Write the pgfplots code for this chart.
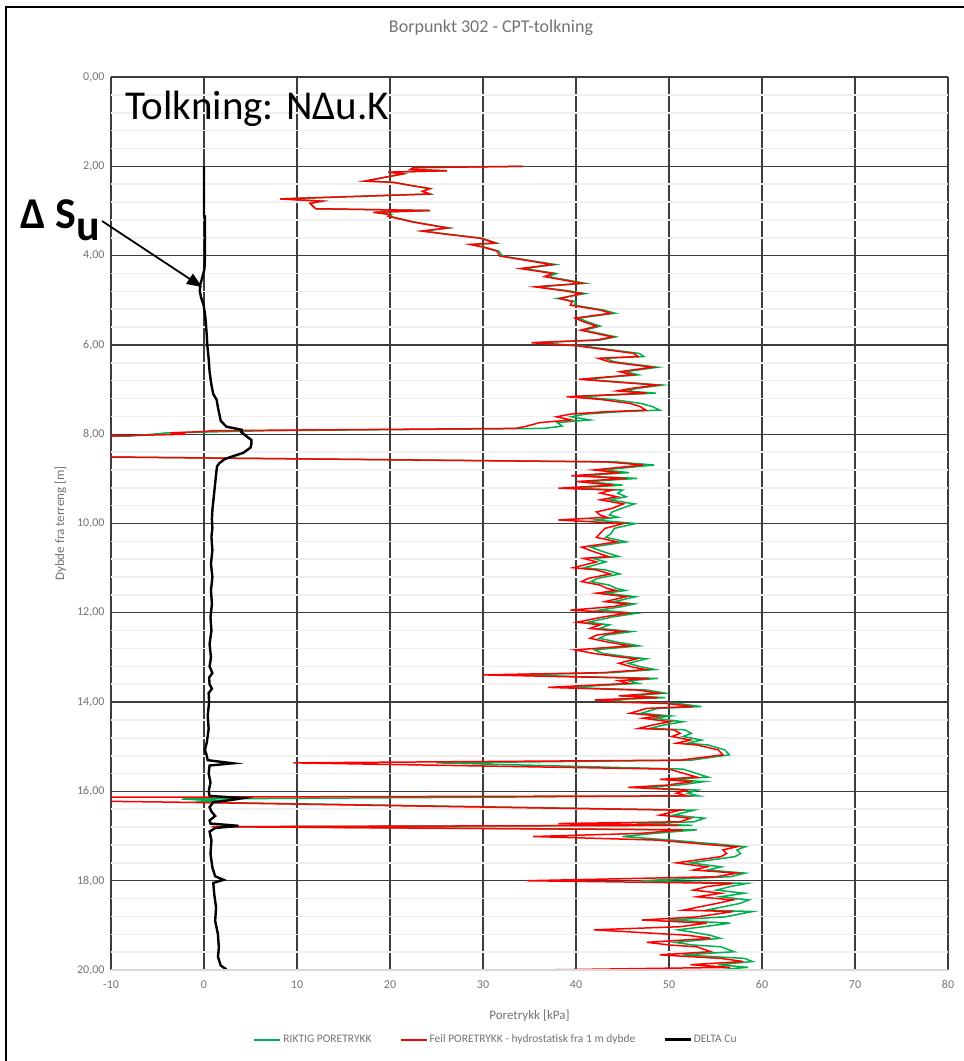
\documentclass[border=0pt]{standalone}
\usepackage{pgfplots}
\pgfplotsset{compat=1.18}
\usepackage{pgfplotstable}
\usepackage{fontspec}
\setmainfont{Carlito}
\usetikzlibrary{arrows.meta}

\definecolor{riktig}{RGB}{0,176,80}
\definecolor{feil}{RGB}{255,0,0}
\definecolor{gridmaj}{RGB}{60,60,60}
\definecolor{gridmin}{RGB}{240,240,240}
\definecolor{txtgray}{RGB}{115,115,115}

% poretrykk [kPa] mot dybde [m]
\pgfplotstableread{
p d
34.3 2.00
22.5 2.03
22.2 2.07
26.1 2.10
19.8 2.13
21.4 2.17
17.3 2.33
20.4 2.36
22.0 2.42
24.3 2.50
23.5 2.56
24.3 2.62
8.2 2.73
12.7 2.78
11.4 2.83
12.0 2.95
24.3 2.99
18.4 3.03
20.2 3.08
20.0 3.12
22.7 3.25
25.2 3.34
26.4 3.38
23.6 3.45
26.2 3.52
29.9 3.61
31.5 3.72
28.8 3.75
30.2 3.81
31.7 3.90
32.1 4.01
33.6 4.06
36.9 4.17
37.8 4.20
34.4 4.29
37.9 4.40
37.0 4.47
41.0 4.62
35.8 4.70
38.9 4.78
41.0 4.85
38.0 4.96
40.0 5.03
39.8 5.11
43.0 5.22
44.2 5.29
40.3 5.40
41.2 5.48
42.6 5.58
40.9 5.67
44.3 5.82
42.6 5.89
35.6 5.95
40.5 6.02
46.8 6.19
47.3 6.26
43.0 6.30
44.2 6.38
48.8 6.50
45.3 6.60
46.7 6.67
40.9 6.77
49.3 6.90
46.7 6.97
45.2 7.03
48.6 7.08
40.0 7.16
43.8 7.22
47.0 7.31
48.2 7.38
49.0 7.46
44.4 7.50
41.0 7.55
39.5 7.61
41.5 7.68
38.0 7.74
38.5 7.82
36.5 7.87
6.9 7.92
-4.0 7.97
-5.5 8.00
-8.0 8.04
-30 8.08
-30 8.47
44.3 8.62
48.4 8.69
42.9 8.80
45.7 8.86
40.5 8.93
46.6 8.99
41.1 9.06
45.0 9.14
39.5 9.21
45.0 9.25
44.5 9.32
45.4 9.40
43.6 9.47
46.3 9.56
44.9 9.66
43.9 9.74
43.6 9.81
44.5 9.86
42.0 9.92
46.4 10.00
44.1 10.11
43.8 10.22
43.2 10.31
45.4 10.41
41.6 10.53
42.9 10.63
44.6 10.74
41.8 10.78
43.2 10.86
40.9 10.99
43.2 11.04
44.7 11.13
42.3 11.23
41.6 11.30
43.6 11.38
44.3 11.45
45.3 11.50
43.2 11.56
46.4 11.64
44.1 11.75
46.3 11.80
45.0 11.86
42.5 11.94
46.5 12.01
44.0 12.09
41.3 12.21
43.6 12.27
42.5 12.35
46.0 12.42
43.2 12.50
42.5 12.57
44.3 12.65
46.8 12.74
42.0 12.83
42.9 12.91
45.4 12.98
47.6 13.03
45.6 13.13
47.0 13.21
48.5 13.27
43.9 13.34
33.0 13.39
48.8 13.47
45.6 13.52
46.7 13.58
39.0 13.67
47.7 13.73
49.6 13.80
45.6 13.86
49.6 13.90
43.0 13.95
46.0 14.00
50.9 14.03
53.5 14.10
48.8 14.14
47.0 14.25
50.2 14.31
48.4 14.36
51.5 14.44
49.5 14.51
47.9 14.59
51.7 14.62
52.4 14.70
51.5 14.77
53.5 14.85
52.0 14.92
54.2 14.96
56.0 15.07
56.5 15.18
52.4 15.30
25.0 15.36
51.5 15.50
54.2 15.68
50.2 15.73
53.8 15.78
51.0 15.86
46.8 15.91
53.1 15.97
52.0 16.04
53.2 16.10
-2.4 16.17
1.4 16.21
-1.0 16.24
52.7 16.42
50.5 16.53
53.8 16.60
52.7 16.68
46.5 16.72
52.5 16.76
2.0 16.79
53.0 16.86
48.4 16.94
45.0 17.01
50.2 17.09
56.3 17.20
58.2 17.24
57.3 17.31
57.7 17.39
57.1 17.46
52.3 17.60
55.6 17.69
54.1 17.76
58.2 17.83
56.6 17.91
47.0 18.00
58.4 18.06
56.6 18.13
55.1 18.21
58.1 18.28
55.5 18.36
58.6 18.43
57.6 18.51
54.0 18.66
59.0 18.69
56.0 18.81
50.0 18.88
56.6 18.95
53.7 19.03
51.0 19.10
54.4 19.22
55.5 19.29
50.6 19.38
52.6 19.44
55.6 19.48
57.0 19.59
51.5 19.66
58.1 19.74
59.0 19.81
55.3 19.88
58.5 19.94
55.0 20.00
}\riktigtab

\pgfplotstableread{
p d
34.3 2.00
22.5 2.03
22.2 2.07
26.1 2.10
19.8 2.13
21.4 2.17
17.3 2.33
20.4 2.36
22.0 2.42
24.3 2.50
23.5 2.56
24.3 2.62
8.2 2.73
12.7 2.78
11.4 2.83
12.0 2.95
24.3 2.99
18.2 3.03
20.0 3.08
19.8 3.12
22.5 3.25
25.0 3.34
26.2 3.38
23.4 3.45
26.0 3.52
29.7 3.61
31.3 3.72
28.6 3.75
30.0 3.81
31.5 3.90
31.8 4.01
33.3 4.06
36.5 4.17
37.4 4.20
34.0 4.29
37.5 4.40
36.6 4.47
40.6 4.62
35.6 4.70
38.5 4.78
40.6 4.85
38.3 4.96
39.6 5.03
39.4 5.11
42.6 5.22
43.7 5.29
39.9 5.40
40.8 5.48
42.2 5.58
40.5 5.67
43.9 5.82
42.2 5.89
35.2 5.95
40.1 6.02
46.2 6.19
46.7 6.26
42.4 6.30
43.6 6.38
48.2 6.50
44.7 6.60
46.1 6.67
40.3 6.77
48.7 6.90
46.1 6.97
44.4 7.03
47.6 7.08
39.0 7.16
42.6 7.22
45.8 7.31
46.9 7.38
47.5 7.46
42.9 7.50
39.4 7.55
37.9 7.61
39.5 7.68
36.1 7.74
34.7 7.82
33.5 7.87
1.0 7.92
0.0 7.94
-3.6 7.97
-2.0 8.00
-9.8 8.04
-30 8.08
-30 8.47
43.3 8.62
47.2 8.69
41.9 8.80
44.7 8.86
39.5 8.93
45.4 8.99
40.1 9.06
44.0 9.14
38.1 9.21
43.9 9.25
42.6 9.32
44.4 9.40
42.6 9.47
45.1 9.56
43.9 9.66
42.2 9.74
42.6 9.81
43.3 9.86
38.1 9.92
45.1 10.00
43.1 10.11
42.6 10.22
42.2 10.31
44.4 10.41
40.6 10.53
41.9 10.63
43.5 10.74
40.8 10.78
42.2 10.86
39.7 10.99
42.2 11.04
43.7 11.13
41.3 11.23
40.6 11.30
42.6 11.38
43.3 11.45
44.3 11.50
42.2 11.56
45.4 11.64
43.1 11.75
45.5 11.80
44.0 11.86
39.4 11.94
45.5 12.01
43.0 12.09
40.1 12.21
42.6 12.27
41.5 12.35
45.0 12.42
42.2 12.50
41.5 12.57
43.3 12.65
45.8 12.74
39.9 12.83
41.9 12.91
44.4 12.98
46.5 13.03
44.6 13.13
46.0 13.21
47.5 13.27
42.9 13.34
30.0 13.39
47.8 13.47
44.6 13.52
45.7 13.58
37.0 13.67
46.7 13.73
48.8 13.80
44.6 13.86
48.8 13.90
42.0 13.95
44.6 14.00
49.7 14.03
52.6 14.10
47.6 14.14
45.8 14.25
49.0 14.31
47.2 14.36
50.1 14.44
48.3 14.51
46.7 14.59
50.5 14.62
51.2 14.70
50.3 14.77
52.3 14.85
50.8 14.92
53.0 14.96
55.3 15.07
55.8 15.18
51.2 15.30
9.6 15.36
50.0 15.50
53.0 15.68
49.0 15.73
52.6 15.78
49.7 15.86
45.6 15.91
51.9 15.97
50.8 16.04
52.0 16.10
-30 16.14
-30 16.17
-3.3 16.24
51.2 16.42
49.0 16.53
52.3 16.60
51.2 16.68
38.1 16.72
51.0 16.76
0.8 16.79
51.5 16.86
46.9 16.94
35.4 17.01
48.7 17.09
54.8 17.20
57.3 17.24
55.8 17.31
56.2 17.39
55.6 17.46
50.8 17.60
54.1 17.69
52.6 17.76
57.3 17.83
55.1 17.91
34.7 18.00
56.9 18.06
54.1 18.13
52.6 18.21
55.6 18.28
53.0 18.36
56.9 18.43
55.1 18.51
51.5 18.66
56.9 18.69
53.0 18.81
47.1 18.88
54.1 18.95
51.2 19.03
41.9 19.10
51.9 19.22
54.5 19.29
47.6 19.38
50.1 19.44
53.0 19.48
54.5 19.59
49.0 19.66
55.6 19.74
58.0 19.81
52.3 19.88
56.6 19.94
35.6 20.00
}\feiltab

\pgfplotstableread{
p d
0.0 2.00
0.0 3.10
0.1 3.12
0.1 4.00
0.05 4.30
-0.2 4.50
-0.4 4.65
-0.45 4.80
-0.3 4.95
-0.05 5.10
0.1 5.30
0.2 5.50
0.3 5.80
0.35 6.00
0.5 6.30
0.6 6.60
0.8 6.90
1.0 7.10
1.36 7.23
1.5 7.40
1.6 7.50
1.8 7.70
2.4 7.83
4.05 7.90
4.0 7.95
4.6 8.05
5.1 8.13
5.1 8.22
5.0 8.30
4.2 8.42
3.0 8.50
2.2 8.56
1.65 8.65
1.4 8.72
1.3 8.90
1.2 9.10
1.1 9.30
1.0 9.50
0.9 9.70
0.85 9.90
0.9 10.10
0.8 10.30
0.9 10.60
0.75 10.90
0.9 11.20
0.75 11.50
0.85 11.80
0.7 12.10
0.8 12.40
0.6 12.70
0.75 13.00
0.6 13.20
0.9 13.35
0.55 13.45
0.6 13.60
0.85 13.70
0.5 13.80
0.55 14.00
0.4 14.30
0.5 14.60
0.3 14.90
0.1 15.07
0.3 15.20
0.4 15.30
3.1 15.37
0.6 15.42
0.5 15.60
0.7 15.80
0.5 16.00
0.6 16.10
4.2 16.15
3.0 16.19
1.0 16.24
0.6 16.35
0.8 16.45
1.2 16.55
0.6 16.65
0.7 16.72
3.7 16.77
1.2 16.82
0.6 16.90
0.8 17.10
0.7 17.40
0.9 17.70
1.2 17.90
2.1 17.98
1.0 18.05
1.1 18.30
1.3 18.60
1.2 18.90
1.5 19.20
1.6 19.50
1.5 19.70
1.8 19.90
2.3 19.97
2.2 20.00
}\deltatab

\begin{document}
\begin{tikzpicture}[x=1pt,y=1pt]
\path[use as bounding box] (0pt,0pt) rectangle (964pt,-1061pt);
\draw[line width=2.5pt] (6pt,-1061pt) -- (6pt,-7pt) -- (964pt,-7pt);

\node[text=txtgray, font=\fontsize{18}{20}\selectfont] at (491pt,-28pt) {Borpunkt 302 - CPT-tolkning};

\begin{axis}[
    at={(111pt,-970pt)}, anchor=south west,
    scale only axis, width=837pt, height=893pt,
    xmin=-10, xmax=80, ymin=0, ymax=20,
    y dir=reverse,
    xtick={-10,0,...,80}, ytick={0,2,...,20},
    minor y tick num=4,
    grid=both,
    major grid style={draw=gridmaj, line width=1.3pt},
    minor grid style={draw=gridmin, line width=1.6pt},
    major tick length=0pt, minor tick length=0pt,
    axis line style={draw=none},
    /pgf/number format/assume math mode=true,
    ticklabel style={text=txtgray, font=\fontsize{12}{14}\selectfont},
    yticklabel style={xshift=-3pt, /pgf/number format/.cd, fixed, fixed zerofill, precision=2, use comma},
    xticklabel style={yshift=-7pt, /pgf/number format/.cd, fixed, precision=0},
    xlabel={Poretrykk [kPa]},
    ylabel={Dybde fra terreng [m]},
    label style={text=txtgray, font=\fontsize{13}{15}\selectfont},
    xlabel style={yshift=-14pt},
    ylabel style={yshift=4pt},
    legend style={at={(0.46,-0.078)}, anchor=center, draw=none, fill=none,
        legend columns=3, font=\fontsize{11.5}{13}\selectfont,
        /tikz/every even column/.append style={column sep=26pt}},
]
\addplot[color=riktig, line width=1.5pt, forget plot] table[x=p, y=d] {\riktigtab};
\addplot[color=feil, line width=1.5pt, forget plot] table[x=p, y=d] {\feiltab};
\addplot[color=black, line width=2.4pt, forget plot] table[x=p, y=d] {\deltatab};
\draw[black!15, line width=2pt] (axis cs:-10,20) -- (axis cs:80,20);

\addlegendimage{legend image code/.code={\draw[draw=riktig, line width=2pt] (0pt,0pt) -- (26pt,0pt);}}
\addlegendentry{\textcolor{txtgray}{RIKTIG PORETRYKK}}
\addlegendimage{legend image code/.code={\draw[draw=feil, line width=2pt] (0pt,0pt) -- (26pt,0pt);}}
\addlegendentry{\textcolor{txtgray}{Feil PORETRYKK - hydrostatisk fra 1 m dybde}}
\addlegendimage{legend image code/.code={\draw[draw=black, line width=2.4pt] (0pt,0pt) -- (26pt,0pt);}}
\addlegendentry{\textcolor{txtgray}{DELTA Cu}}
\end{axis}

\node[anchor=base west, font=\fontsize{41}{45}\selectfont, inner sep=0pt] at (125pt,-119pt) {Tolkning: NΔu.K};
\node[anchor=base west, font=\bfseries\fontsize{44}{48}\selectfont, inner sep=0pt] at (20pt,-228pt) {Δ S\raisebox{-12pt}{u}};
\draw[-{Triangle[length=15pt,width=12pt]}, line width=1.8pt] (102pt,-221pt) -- (202pt,-287pt);
\end{tikzpicture}
\end{document}
